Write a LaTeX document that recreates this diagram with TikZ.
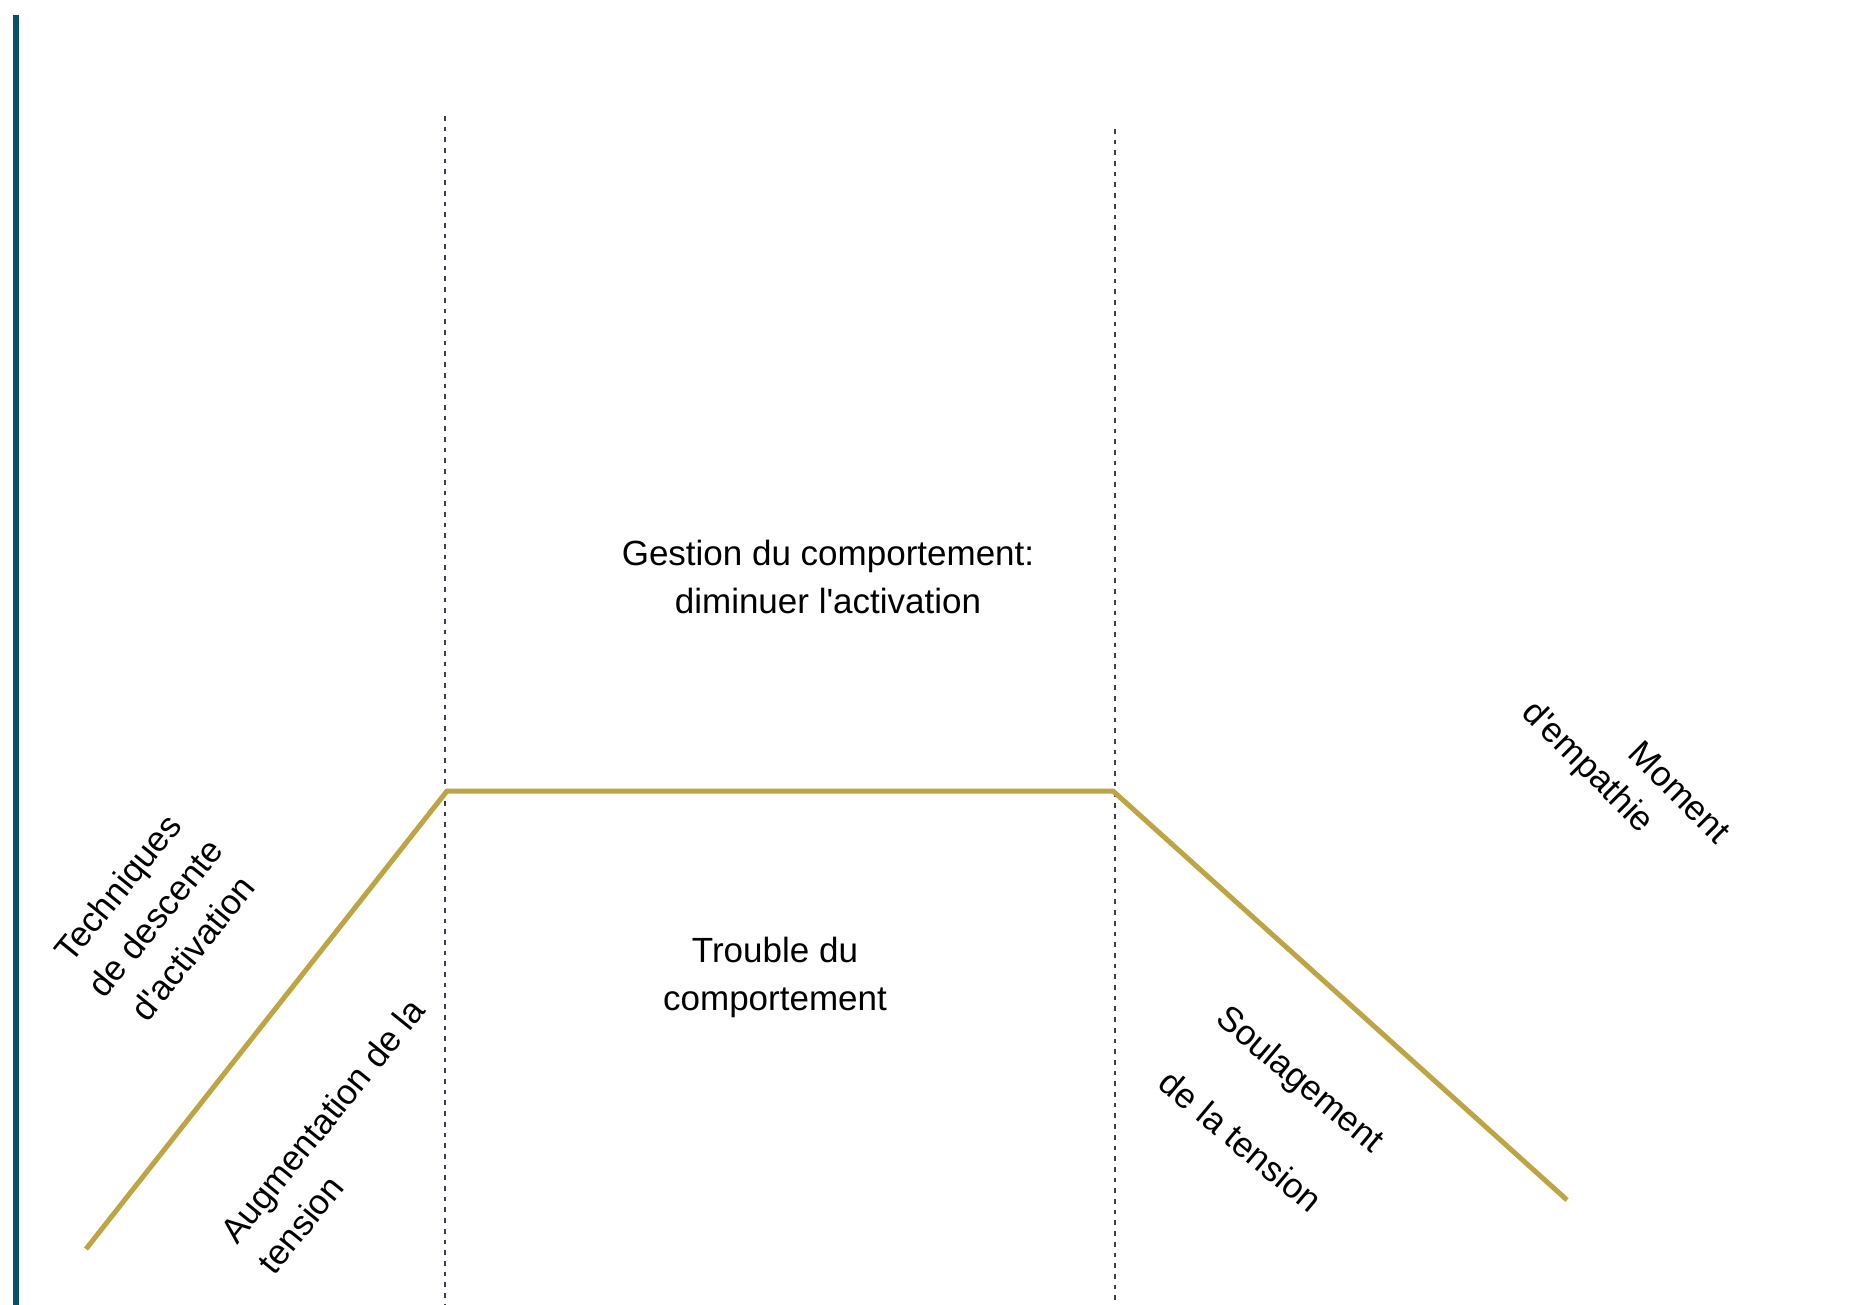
\documentclass[tikz,border=0pt]{standalone}
\usepackage{fontspec}
\setmainfont{Liberation Sans}[Ligatures=TeXOff]
\definecolor{barblue}{RGB}{11,79,108}
\definecolor{tensiongold}{RGB}{191,164,68}
\definecolor{guidegray}{RGB}{58,62,78}
\begin{document}
\begin{tikzpicture}[x=1pt,y=-1pt,
  lbl/.style={inner sep=0pt, font=\fontsize{35}{48}\selectfont, text=black},
  guide/.style={draw=guidegray, line width=2.3pt, dash pattern=on 4.7pt off 6pt},
  curve/.style={draw=tensiongold, line width=5pt}]
\useasboundingbox[fill=white] (0,0) rectangle (1870,1305);

% left axis bar
\coordinate (barTop) at (15.8,15);
\coordinate (barBot) at (15.8,1305);
\draw[barblue, line width=5.5pt] (barTop) -- (barBot);

% phase boundaries
\coordinate (g1top) at (445,116);
\coordinate (g1bot) at (445,1305);
\coordinate (g2top) at (1115,129);
\coordinate (g2bot) at (1115,1305);
\draw[guide] (g1top) -- (g1bot);
\draw[guide] (g2top) -- (g2bot);

% tension profile
\coordinate (p0) at (86,1249);
\coordinate (p1) at (447,791);
\coordinate (p2) at (1113,791);
\coordinate (p3) at (1567,1200);
\draw[curve] (p0) -- (p1) -- (p2) -- (p3);

% labels
\node[lbl, align=center] (gestion) at (828,577) {Gestion du comportement:\\diminuer l'activation};
\node[lbl, align=center] (trouble) at (775,977) {Trouble du\\comportement};
\node[lbl, align=center, rotate=51] (techniques) at (155,918) {Techniques\\de descente\\d'activation};
\node[lbl, align=left, rotate=51] (augmentation) at (341,1136) {Augmentation de la\\tension};
\node[lbl, rotate=-40] (soulagement) at (1299,1081) {Soulagement};
\node[lbl, rotate=-40] (delatension) at (1241,1141) {de la tension};
\node[lbl, rotate=-45] (moment) at (1680,792) {Moment};
\node[lbl, rotate=-45] (empathie) at (1587,768) {d'empathie};
\end{tikzpicture}
\end{document}
